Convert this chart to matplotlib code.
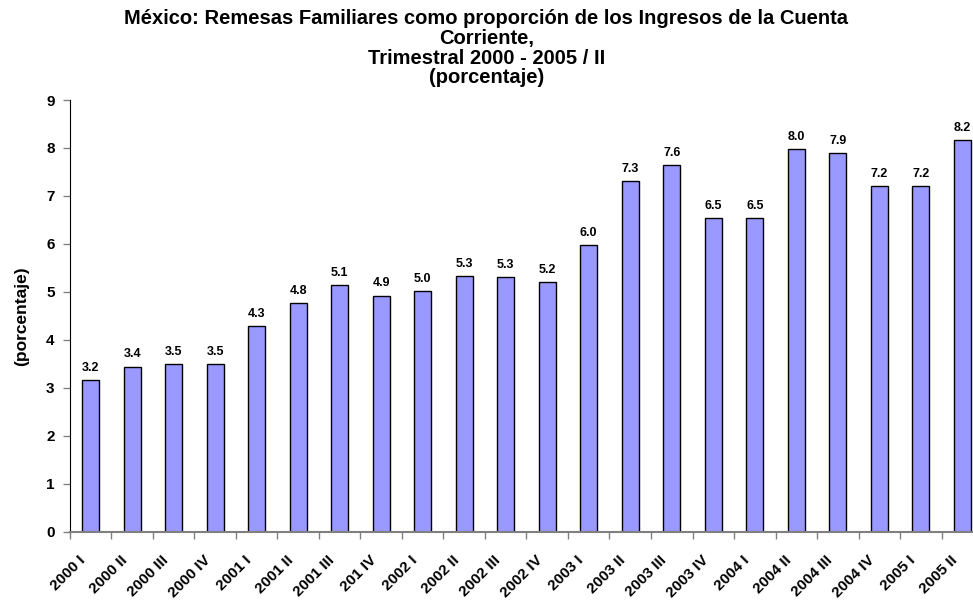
import matplotlib
matplotlib.use("Agg")
import matplotlib.pyplot as plt
import matplotlib.transforms as mtransforms
import numpy as np

# Datos
trimestres = ['2000 I', '2000 II', '2000 III', '2000 IV', '2001 I', '2001 II', '2001 III', '201 IV',
              '2002 I', '2002 II', '2002 III', '2002 IV', '2003 I', '2003 II', '2003 III', '2003 IV',
              '2004 I', '2004 II', '2004 III', '2004 IV', '2005 I', '2005 II']
remesas = [3.16, 3.44, 3.50, 3.50, 4.28, 4.77, 5.14, 4.92, 5.02, 5.33, 5.30, 5.21,
           5.97, 7.31, 7.64, 6.54, 6.53, 7.97, 7.89, 7.21, 7.21, 8.17]

plt.rcParams['font.family'] = ['Liberation Sans', 'DejaVu Sans']

fig = plt.figure(figsize=(9.73, 6.04), dpi=100)
ax = fig.add_axes([0.0719, 0.1197, 0.9384, 0.7147])

x = np.arange(len(trimestres))
ax.bar(x, remesas, width=0.41, color='#9999FF', edgecolor='black', linewidth=1.0, zorder=2)

# Etiquetas de valores
for xi, v in zip(x, remesas):
    ax.text(xi, v + 0.13, f'{v:.1f}', ha='center', va='bottom', fontsize=9, fontweight='bold')

ax.set_xlim(-0.5, len(trimestres) - 0.5)
ax.set_ylim(0, 9)
ax.set_yticks(range(0, 10))
ax.set_yticklabels([str(i) for i in range(0, 10)], fontsize=11, fontweight='bold')

# ticks del eje x entre categorías
ax.set_xticks(np.arange(-0.5, len(trimestres), 1.0))
ax.set_xticklabels([])
ax.set_xticks(x, minor=True)
ax.set_xticklabels(trimestres, minor=True, rotation=45, ha='right', rotation_mode='anchor',
                   fontsize=11, fontweight='bold')
ax.tick_params(axis='x', which='minor', length=0, pad=12)
ax.tick_params(axis='x', which='major', length=5, color='#808080', width=1)
ax.tick_params(axis='y', length=5, color='#808080', width=1, pad=6)

# desplazar etiquetas un poco hacia abajo e izquierda
offset = mtransforms.ScaledTranslation(-0.12, -0.05, fig.dpi_scale_trans)
for lbl in ax.get_xticklabels(minor=True):
    lbl.set_transform(lbl.get_transform() + offset)

for s in ['top', 'right']:
    ax.spines[s].set_visible(False)
ax.spines['left'].set_color('black')
ax.spines['bottom'].set_color('#808080')
ax.spines['bottom'].set_linewidth(1.5)

ax.set_ylabel('(porcentaje)', fontsize=12.5, fontweight='bold', labelpad=12)

fig.text(0.5, 0.985, 'México: Remesas Familiares como proporción de los Ingresos de la Cuenta\nCorriente,\n'
         'Trimestral 2000 - 2005 / II\n(porcentaje)',
         ha='center', va='top', fontsize=14.5, fontweight='bold', linespacing=1.05)

fig.savefig('out.png', dpi=100)
